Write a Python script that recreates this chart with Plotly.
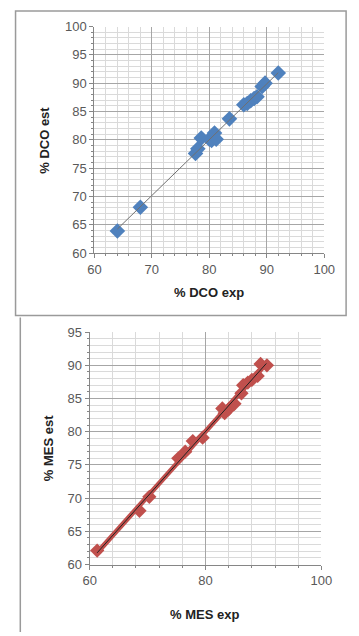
import numpy as np
import plotly.graph_objects as go

# --- data ---
dco_exp = [64.0, 68.0, 77.6, 78.0, 78.6, 80.0, 80.4, 80.9, 81.2, 83.5, 86.0, 86.6, 87.2, 87.8, 88.3, 89.2, 89.7, 92.0]
dco_est = [63.9, 68.1, 77.6, 78.4, 80.3, 80.1, 79.9, 81.2, 80.1, 83.7, 86.2, 86.4, 86.9, 87.3, 87.6, 89.4, 90.0, 91.8]

mes_exp = [61.3, 68.6, 70.3, 75.3, 76.5, 77.8, 79.5, 82.9, 83.3, 84.0, 85.0, 86.2, 86.5, 87.3, 88.0, 89.0, 89.5, 90.6]
mes_est = [62.1, 68.1, 70.2, 76.0, 77.0, 78.6, 79.1, 83.5, 82.8, 83.4, 84.2, 85.8, 87.0, 87.4, 87.8, 88.4, 90.2, 90.0]

# trendlines computed from the data (linear and quadratic fits)
dco_lin = np.polyfit(dco_exp, dco_est, 1)
dco_tx = np.array([min(dco_exp), max(dco_exp)])
dco_ty = np.polyval(dco_lin, dco_tx)

mes_lin = np.polyfit(mes_exp, mes_est, 1)
mes_tx = np.array([min(mes_exp), max(mes_exp) - 0.1])
mes_ty = np.polyval(mes_lin, mes_tx)

mes_quad = np.polyfit(mes_exp, mes_est, 2)
mes_qx = np.linspace(min(mes_exp), max(mes_exp), 60)
mes_qy = np.polyval(mes_quad, mes_qx)

W, H = 359, 636
FONT = "Liberation Sans"
TICK_COLOR = "#595959"
MAJOR = "#a6a6a6"
MINOR = "#dadada"
AXIS = "#868686"

fig = go.Figure()

fig.add_trace(go.Scatter(x=dco_exp, y=dco_est, mode="markers",
                         marker=dict(symbol="diamond", size=12, color="#4f81bd"),
                         xaxis="x", yaxis="y", showlegend=False))
fig.add_trace(go.Scatter(x=dco_tx, y=dco_ty, mode="lines",
                         line=dict(color="#707070", width=1),
                         xaxis="x", yaxis="y", showlegend=False))

fig.add_trace(go.Scatter(x=mes_exp, y=mes_est, mode="markers",
                         marker=dict(symbol="diamond", size=11, color="#c0504d"),
                         xaxis="x2", yaxis="y2", showlegend=False))
fig.add_trace(go.Scatter(x=mes_qx, y=mes_qy, mode="lines",
                         line=dict(color="#c0504d", width=5),
                         xaxis="x2", yaxis="y2", showlegend=False))
fig.add_trace(go.Scatter(x=mes_tx, y=mes_ty, mode="lines",
                         line=dict(color="#222222", width=1),
                         xaxis="x2", yaxis="y2", showlegend=False))


def ax(domain, rng, dtick, mdtick, anchor):
    return dict(domain=domain, range=rng, dtick=dtick, anchor=anchor,
                showgrid=True, gridcolor=MAJOR, gridwidth=1,
                minor=dict(dtick=mdtick, showgrid=True, gridcolor=MINOR, gridwidth=1,
                           ticks="outside", ticklen=2, tickcolor=AXIS),
                ticks="outside", ticklen=4, tickcolor=AXIS,
                showline=True, linecolor=AXIS, linewidth=1,
                zeroline=False, fixedrange=True,
                tickfont=dict(family=FONT, size=13, color=TICK_COLOR))


def px_x(p):
    return p / W


def px_y(p):
    return 1 - p / H


fig.update_layout(
    width=W, height=H,
    margin=dict(l=0, r=0, t=0, b=0),
    paper_bgcolor="white", plot_bgcolor="white",
    xaxis=ax([px_x(92), px_x(334)], [60, 100], 10, 2, "y"),
    yaxis=ax([px_y(252), px_y(20)], [60, 100], 5, 1, "x"),
    xaxis2=ax([px_x(87), px_x(331)], [60, 100], 20, 4, "y2"),
    yaxis2=ax([px_y(571), px_y(333)], [60, 95], 5, 1, "x2"),
)

title_font = dict(family=FONT, size=13, color="#222222")
fig.update_layout(annotations=[
    dict(text="<b>% DCO exp</b>", x=px_x(213), y=px_y(292), xref="paper", yref="paper",
         showarrow=False, font=title_font, xanchor="center", yanchor="middle"),
    dict(text="<b>% DCO est</b>", x=px_x(40), y=px_y(136), xref="paper", yref="paper",
         showarrow=False, font=title_font, textangle=-90, xanchor="center", yanchor="middle"),
    dict(text="<b>% MES exp</b>", x=px_x(208), y=px_y(622), xref="paper", yref="paper",
         showarrow=False, font=title_font, xanchor="center", yanchor="middle"),
    dict(text="<b>% MES est</b>", x=px_x(43), y=px_y(452), xref="paper", yref="paper",
         showarrow=False, font=title_font, textangle=-90, xanchor="center", yanchor="middle"),
])

box = dict(color="#9a9a9a", width=1.5)
fig.update_layout(shapes=[
    dict(type="rect", xref="paper", yref="paper", x0=px_x(9), x1=px_x(357),
         y0=px_y(316), y1=px_y(4), line=box, fillcolor="rgba(0,0,0,0)"),
    dict(type="line", xref="paper", yref="paper", x0=px_x(14), x1=px_x(14),
         y0=px_y(318), y1=px_y(640), line=box),
])

fig.write_html("out.html")
